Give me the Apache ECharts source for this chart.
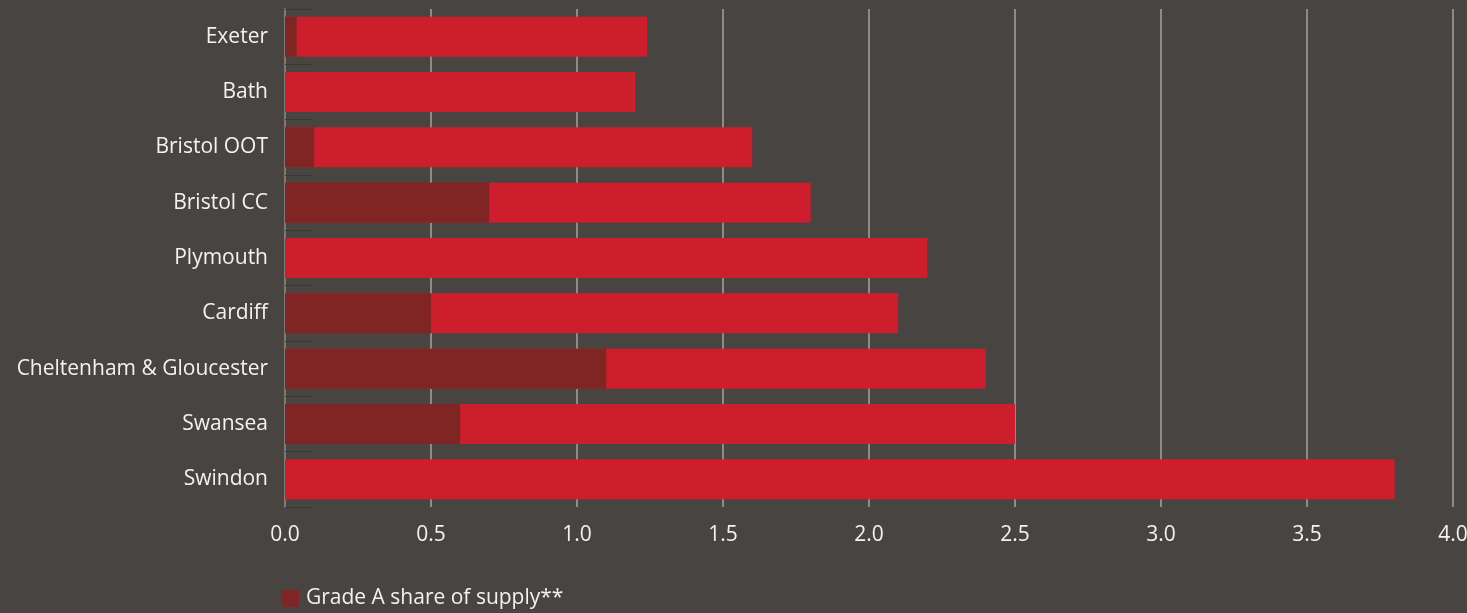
<!DOCTYPE html>
<html><head><meta charset="utf-8">
<script src="https://cdn.jsdelivr.net/npm/echarts@6/dist/echarts.min.js"></script>
<style>html,body{margin:0;padding:0;background:#484441;}#c{width:1467px;height:613px;}</style>
</head><body><div id="c"></div>
<script>
const categories = ["Exeter","Bath","Bristol OOT","Bristol CC","Plymouth","Cardiff","Cheltenham & Gloucester","Swansea","Swindon"];
const totalSupply = [1.24,1.20,1.60,1.80,2.20,2.10,2.40,2.50,3.80];
const gradeAShare = [0.04,0,0.10,0.70,0,0.50,1.10,0.60,0];
const xTicks = {min:0,max:4,interval:0.5};

const chart = echarts.init(document.getElementById('c'), null, {renderer:'canvas'});
const font = '"Open Sans", Roboto, sans-serif';
chart.setOption({
  backgroundColor:'#484441',
  animation:false,
  grid:{left:285,right:14,top:9,bottom:106,containLabel:false,outerBoundsMode:'none'},
  legend:{data:['Grade A share of supply**'],left:277,top:583,itemWidth:17,itemHeight:17,icon:'rect',itemGap:10,
    textStyle:{color:'#f2f2f2',fontSize:21,fontFamily:font,padding:[0,0,0,2]}},
  xAxis:{type:'value',min:xTicks.min,max:xTicks.max,interval:xTicks.interval,
    axisLine:{show:false},axisTick:{show:false},
    axisLabel:{color:'#f2f2f2',fontSize:21,fontFamily:font,margin:18,formatter:v=>v.toFixed(1)},
    splitLine:{show:true,lineStyle:{color:'#8e8c8a',width:2}}},
  yAxis:{type:'category',data:categories,inverse:true,
    axisLine:{show:true,lineStyle:{color:'#7c7a78',width:2}},
    axisTick:{show:true,inside:true,length:28,lineStyle:{color:'#3a3735',width:1}},
    axisLabel:{color:'#f2f2f2',fontSize:21,fontFamily:font,margin:17}},
  series:[
    {name:'Total supply',type:'bar',data:totalSupply,barWidth:40,barGap:'-100%',
      itemStyle:{color:'#cd1e2e'},z:2},
    {name:'Grade A share of supply**',type:'bar',data:gradeAShare,barWidth:40,barGap:'-100%',
      itemStyle:{color:'#7f2624'},z:3}
  ]
});
</script></body></html>
